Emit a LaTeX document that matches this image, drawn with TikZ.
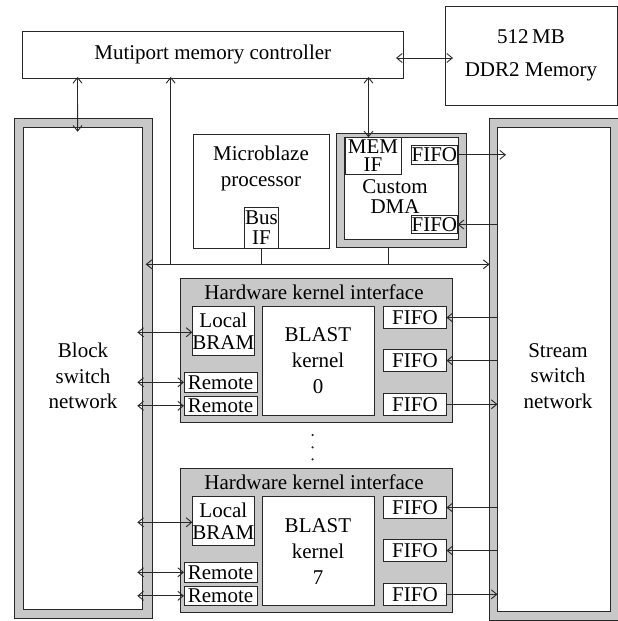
\documentclass[tikz,border=0pt]{standalone}
\usepackage{fontspec}
\setmainfont{Liberation Serif}
\usetikzlibrary{arrows.meta,calc}
\definecolor{panel}{RGB}{200,200,200}
\definecolor{ink}{RGB}{40,40,40}
\begin{document}
\begin{tikzpicture}[x=1pt,y=-1pt,
  >={Straight Barb[length=5.5pt,width=9pt]},
  every node/.style={inner sep=0pt, outer sep=0pt},
  box/.style={draw=ink, line width=1pt, fill=white, anchor=north west, font=\fontsize{21}{24}\selectfont, align=center},
  gbox/.style={box, fill=panel},
  txt/.style={font=\fontsize{21}{26}\selectfont, align=center},
  conn/.style={draw=ink, line width=0.9pt},
  dotmark/.style={circle, fill=ink, minimum size=2.4pt},
]
\useasboundingbox (0,0) rectangle (618,621);
\fill[white] (0,0) rectangle (618,621);

% memory controller and DDR2
\node[box, minimum width=380.5pt, minimum height=47pt] (ctrl) at (22.5,31) {Mutiport memory controller};
\node[box, minimum width=172pt, minimum height=99pt, font=\fontsize{21}{33}\selectfont] (ddr) at (445,6) {512\,MB\\DDR2 Memory};

% switch networks
\node[gbox, minimum width=138.5pt, minimum height=500pt] (bso) at (14,118.3) {};
\node[box, minimum width=119.1pt, minimum height=481.3pt] (bsi) at (23.6,127.7) {};
\node[txt, font=\fontsize{21}{25.5}\selectfont] (bst) at (83,376) {Block\\switch\\network};
\node[gbox, minimum width=140pt, minimum height=502.2pt] (sso) at (489.5,118.3) {};
\node[box, minimum width=113.2pt, minimum height=484pt] (ssi) at (497.5,127.5) {};
\node[txt, font=\fontsize{21}{25.5}\selectfont] (sst) at (558,376) {Stream\\switch\\network};

% Microblaze
\node[box, minimum width=136pt, minimum height=113.7pt] (mb) at (193.3,134.3) {};
\node[txt] (mbt) at (261,168) {Microblaze\\processor};
\node[box, minimum width=34.7pt, minimum height=40.7pt, font=\fontsize{21}{19.6}\selectfont] (busif) at (244,207.3) {Bus\\IF};

% Custom DMA
\node[gbox, minimum width=129.3pt, minimum height=114pt] (dmao) at (336.7,133.3) {};
\node[box, minimum width=114pt, minimum height=102pt] (dmai) at (344.3,137.3) {};
\node[box, minimum width=56pt, minimum height=36.7pt, font=\fontsize{21}{18}\selectfont] (memif) at (345,137.3) {MEM\\IF};
\node[box, minimum width=46.7pt, minimum height=18.3pt] (dfifo1) at (411,145.7) {FIFO};
\node[box, minimum width=46.7pt, minimum height=17.6pt] (dfifo2) at (411,215.7) {FIFO};
\node[txt, font=\fontsize{21}{19.5}\selectfont] (dmat) at (395,196.4) {Custom\\DMA};

% hardware kernels
\foreach \k/\T in {0/278.3, 7/468.3}{
  \node[gbox, minimum width=272.5pt, minimum height=144pt] (hk\k) at (180,\T) {};
  \node[txt] (hkt\k) at ($(hk\k.north)+(-2.25,14.4)$) {Hardware kernel interface};
  \node[box, minimum width=60pt, minimum height=49pt, font=\fontsize{21}{22.4}\selectfont] (lb\k) at ($(hk\k.north west)+(12.4,28.5)$) {Local\\BRAM};
  \node[box, minimum width=112pt, minimum height=108.5pt, font=\fontsize{21}{26}\selectfont] (bk\k) at ($(hk\k.north west)+(82,28.5)$) {BLAST\\kernel\\\k};
  \node[box, minimum width=63pt, minimum height=21.5pt] (fa\k) at ($(hk\k.north west)+(203.5,28.5)$) {FIFO};
  \node[box, minimum width=63pt, minimum height=21.5pt] (fb\k) at ($(hk\k.north west)+(203.5,71.5)$) {FIFO};
  \node[box, minimum width=63pt, minimum height=22pt] (fc\k) at ($(hk\k.north west)+(203.5,115)$) {FIFO};
  \node[box, minimum width=73pt, minimum height=20pt] (ra\k) at ($(hk\k.north west)+(4,94)$) {Remote};
  \node[box, minimum width=73pt, minimum height=19pt] (rb\k) at ($(hk\k.north west)+(4,118)$) {Remote};
  \draw[conn,<->] ($(bsi.east |- lb\k.west)+(-5.4,1)$) -- ($(lb\k.west)+(0,1)$);
  \draw[conn,<->] ($(bsi.east |- ra\k.west)+(-5.4,0)$) -- (ra\k.west);
  \draw[conn,<->] ($(bsi.east |- rb\k.west)+(-5.4,0)$) -- (rb\k.west);
  \draw[conn,->] (ssi.west |- fa\k.east) -- (fa\k.east);
  \draw[conn,->] (ssi.west |- fb\k.east) -- (fb\k.east);
  \draw[conn,->] (fc\k.east) -- (ssi.west |- fc\k.east);
}

% ellipsis dots
\node[dotmark] (v1) at (312.6,435) {};
\node[dotmark] (v2) at (312.6,447.3) {};
\node[dotmark] (v3) at (312.6,459.3) {};

% bus and connectors
\coordinate (busL) at ($(bsi.north east)+(3,136.6)$);
\draw[conn,<->] (busL) -- (sso.west |- busL);
\draw[conn,<-] ($(ctrl.south west)+(148.2,-1)$) -- ($(ctrl.south west |- busL)+(148.2,0)$);
\draw[conn,<->] ($(ctrl.south west)+(55,-1)$) -- ($(bsi.north west)+(54,4)$);
\draw[conn,<->] ($(ctrl.south west)+(346,-1)$) -- ($(memif.north west)+(23.5,0)$);
\draw[conn] (busif.south) -- (busif.south |- busL);
\draw[conn] ($(dmao.south west)+(51.6,0)$) -- ($(dmao.south west |- busL)+(51.6,0)$);
\draw[conn,<->] ($(ctrl.east)+(-7,3.5)$) -- ($(ddr.west |- ctrl.east)+(8,3.5)$);
\draw[conn,->] (dfifo1.east) -- ($(ssi.west |- dfifo1.east)+(8.5,0)$);
\draw[conn,->] (ssi.west |- dfifo2.east) -- (dfifo2.east);
\end{tikzpicture}
\end{document}
